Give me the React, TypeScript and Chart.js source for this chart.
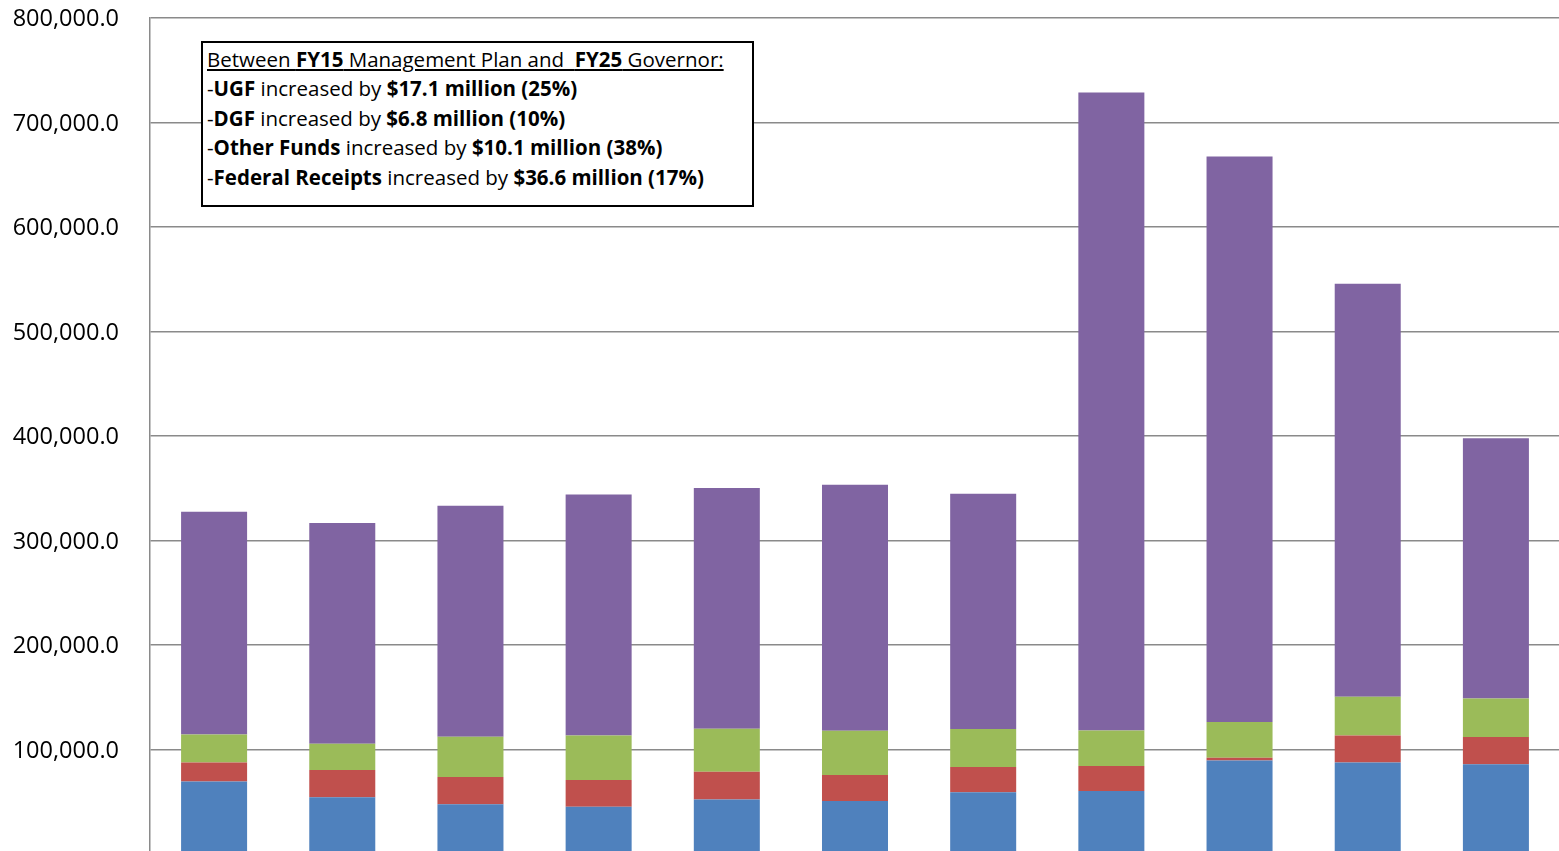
import React, { useEffect, useRef } from "react";
import { Chart, registerables } from "chart.js";

Chart.register(...registerables);

const categories = [
  "FY15 MgtPln",
  "FY16 MgtPln",
  "FY17 MgtPln",
  "FY18 MgtPln",
  "FY19 MgtPln",
  "FY20 MgtPln",
  "FY21 MgtPln",
  "FY22 MgtPln",
  "FY23 MgtPln",
  "FY24 MgtPln",
  "FY25 Gov",
];

const ugf = [69400, 54400, 47700, 45100, 52100, 50600, 59200, 60200, 89500, 87600, 86000];
const dgf = [18200, 25900, 25900, 25600, 26600, 24900, 24000, 23900, 2600, 25800, 25900];
const otherFunds = [26800, 25200, 38600, 42700, 41100, 42400, 36300, 34100, 34100, 37100, 36900];
const federalReceipts = [213200, 211300, 221100, 230500, 230500, 235500, 225300, 610500, 541300, 395100, 249000];

const yTicks = [0, 100000, 200000, 300000, 400000, 500000, 600000, 700000, 800000];

const FONT = "'Open Sans', 'Liberation Sans', sans-serif";

export default function App() {
  const ref = useRef<HTMLCanvasElement | null>(null);

  useEffect(() => {
    if (!ref.current) return;
    const chart = new Chart(ref.current, {
      type: "bar",
      data: {
        labels: categories,
        datasets: [
          { label: "UGF", data: ugf, backgroundColor: "#4F81BD" },
          { label: "DGF", data: dgf, backgroundColor: "#C0504D" },
          { label: "Other Funds", data: otherFunds, backgroundColor: "#9BBB59" },
          { label: "Federal Receipts", data: federalReceipts, backgroundColor: "#8064A2" },
        ],
      },
      options: {
        responsive: false,
        animation: false,
        layout: { padding: { top: 18, right: 0, bottom: 0, left: 0 } },
        datasets: {
          bar: { categoryPercentage: 1, barPercentage: 0.515, borderWidth: 0 },
        },
        plugins: {
          legend: { display: false },
          tooltip: { enabled: false },
        },
        scales: {
          x: {
            stacked: true,
            display: false,
          },
          y: {
            stacked: true,
            min: yTicks[0],
            max: yTicks[yTicks.length - 1],
            afterFit: (scale: any) => {
              scale.width = 150;
              scale.paddingTop = 0;
              scale.paddingBottom = 0;
            },
            afterBuildTicks: (scale: any) => {
              scale.ticks = yTicks.map((v) => ({ value: v }));
            },
            ticks: {
              padding: 31,
              labelOffset: 1.5,
              color: "#000",
              font: { family: FONT, size: 23.5 },
              callback: (v: any) =>
                Number(v) === 0
                  ? ""
                  : Number(v).toLocaleString("en-US", {
                      minimumFractionDigits: 1,
                      maximumFractionDigits: 1,
                    }),
            },
            grid: { color: "#8a8a8a", lineWidth: 1.5, drawTicks: false },
            border: { color: "#8a8a8a", width: 1.5 },
          },
        },
      },
    });
    return () => chart.destroy();
  }, []);

  const line: React.CSSProperties = { height: 29.4, lineHeight: "29.4px", whiteSpace: "nowrap" };

  return (
    <div
      style={{
        position: "fixed",
        left: 0,
        top: 0,
        width: 1560,
        height: 854,
        background: "#fff",
      }}
    >
      <canvas ref={ref} width={1560} height={854} style={{ display: "block" }} />
      <div
        style={{
          position: "absolute",
          left: 201,
          top: 41,
          width: 553,
          height: 166,
          boxSizing: "border-box",
          border: "2px solid #000",
          background: "#fff",
          padding: "2px 0 0 4px",
          fontFamily: FONT,
          fontSize: 20.5,
          color: "#000",
        }}
      >
        <div style={{ ...line, textDecoration: "underline" }}>
          Between <b>FY15</b> Management Plan and&nbsp; <b>FY25</b> Governor:
        </div>
        <div style={line}>
          -<b>UGF</b> increased by <b>$17.1 million (25%)</b>
        </div>
        <div style={line}>
          -<b>DGF</b> increased by <b>$6.8 million (10%)</b>
        </div>
        <div style={line}>
          -<b>Other Funds</b> increased by <b>$10.1 million (38%)</b>
        </div>
        <div style={line}>
          -<b>Federal Receipts</b> increased by <b>$36.6 million (17%)</b>
        </div>
      </div>
    </div>
  );
}
